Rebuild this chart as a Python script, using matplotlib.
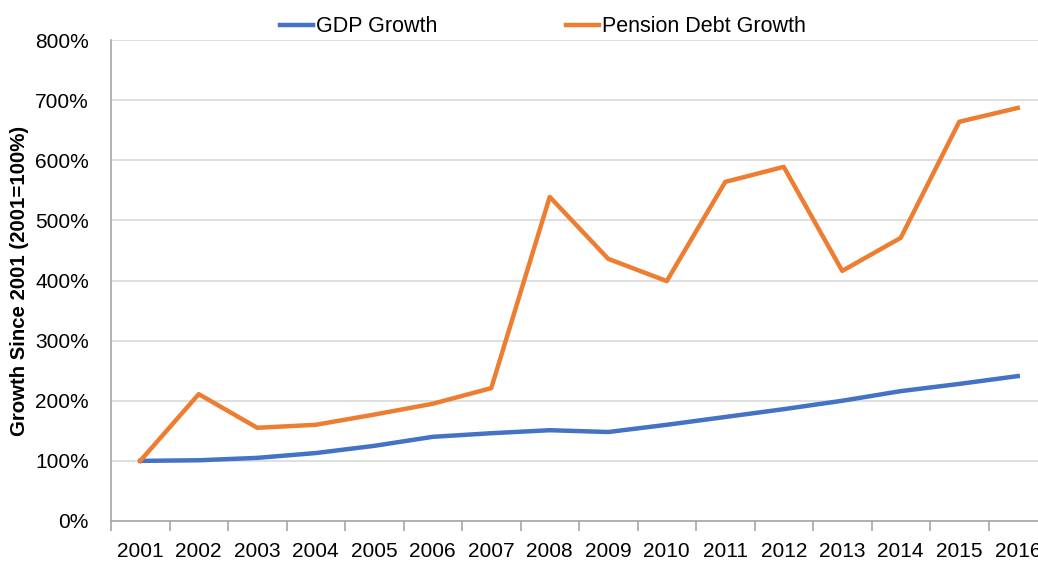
import numpy as np
import matplotlib
matplotlib.use("Agg")
import matplotlib.pyplot as plt
from matplotlib.ticker import FixedLocator, FuncFormatter

plt.rcParams["font.family"] = ["Liberation Sans", "DejaVu Sans"]

years = [str(y) for y in range(2001, 2017)]
gdp_growth = [100, 101, 105, 113, 125, 140, 146, 151, 148, 160, 173, 186, 200, 216, 228, 241]
pension_debt_growth = [100, 211, 155, 160, 177, 195, 221, 539, 436, 399, 564, 589, 416, 471, 664, 687]

fig = plt.figure(figsize=(10.38, 5.61), dpi=100)
ax = fig.add_axes([111 / 1038, 1 - 521 / 561, 936 / 1038, 481 / 561])

x = np.arange(len(years))
ax.plot(x, gdp_growth, color="#4472C4", lw=3.2, label="GDP Growth", solid_joinstyle="round")
ax.plot(x, pension_debt_growth, color="#ED7D31", lw=3.2, label="Pension Debt Growth",
        solid_joinstyle="round")

ax.set_xlim(-0.5, len(years) - 0.5)
ax.set_ylim(0, 800)
ax.set_yticks(np.arange(0, 801, 100))
ax.yaxis.set_major_formatter(FuncFormatter(lambda v, p: "{:d}%".format(int(v))))
ax.grid(axis="y", color="#D9D9D9", lw=1.2)
ax.set_axisbelow(True)

ax.set_xticks(x)
ax.set_xticklabels(years)
ax.xaxis.set_minor_locator(FixedLocator(np.arange(-0.5, len(years), 1)))
ax.tick_params(axis="x", which="major", length=0, pad=15, labelsize=15)
ax.tick_params(axis="x", which="minor", length=7, color="#A6A6A6", width=1.2)
ax.tick_params(axis="y", length=0, pad=16, labelsize=15)

for s in ["top", "right"]:
    ax.spines[s].set_visible(False)
for s in ["left", "bottom"]:
    ax.spines[s].set_color("#A6A6A6")
    ax.spines[s].set_linewidth(1.2)

ax.set_ylabel("Growth Since 2001 (2001=100%)", fontsize=14.7, fontweight="bold")
ax.yaxis.set_label_coords(-82 / 936, 0.5)

ax.legend(loc="center", ncol=2, frameon=False, fontsize=15.5, handlelength=1.5,
          handletextpad=0.15, columnspacing=6.0, borderaxespad=0)
leg = ax.get_legend()
leg.set_bbox_to_anchor((543 / 1038, 1 - 27 / 561), transform=fig.transFigure)

fig.savefig("out.png", dpi=100)
